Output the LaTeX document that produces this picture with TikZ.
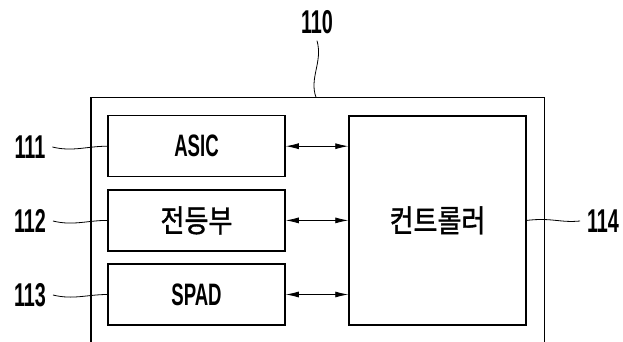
\documentclass[tikz,border=0pt]{standalone}
\usepackage{fontspec}
\setmainfont[FakeStretch=0.6]{Liberation Sans}
\newfontfamily\krfont[FakeStretch=0.84, FakeBold=1.2]{Noto Sans CJK KR}
\usetikzlibrary{arrows.meta}
\begin{document}
\begin{tikzpicture}[x=1pt,y=-1pt,
  blk/.style={draw, line width=1.5pt, minimum width=177pt, minimum height=61pt, inner sep=0pt, font=\fontsize{31}{32}\selectfont\bfseries},
  lab/.style={inner sep=0pt, outer sep=7pt, font=\fontsize{33}{33}\selectfont\bfseries},
  lead/.style={line width=0.8pt},
  biarrow/.style={line width=0.8pt, {Latex[length=13pt,width=6pt]}-{Latex[length=13pt,width=6pt]}}]
\useasboundingbox (0,0) rectangle (623,342);
% outer housing 110 (open at the bottom)
\draw[line width=1.5pt] (91,342) -- (91,97.3) -- (544.6,97.3) -- (544.6,342);
\coordinate (c110) at (316,97.3);
% blocks
\node[blk] (asic) at (196.5,146.2) {ASIC};
\node[blk] (lamp) at (196.5,220.4) {\krfont\mdseries 전등부};
\node[blk] (spad) at (196.5,294.5) {SPAD};
\node[blk, minimum height=209pt] (ctrl) at (437.5,220.4) {\krfont\mdseries 컨트롤러};
% arrows
\draw[biarrow] (asic.east) -- (asic.east -| ctrl.west);
\draw[biarrow] (lamp.east) -- (lamp.east -| ctrl.west);
\draw[biarrow] (spad.east) -- (spad.east -| ctrl.west);
% reference labels
\node[lab] (l110) at (317,22) {110};
\node[lab] (l111) at (30,147) {111};
\node[lab] (l112) at (30,221) {112};
\node[lab] (l113) at (30,295) {113};
\node[lab] (l114) at (603,221) {114};
% leaders
\draw[lead] (l110.south) .. controls (323,62) and (309,78) .. (c110);
\draw[lead] (l111.east) .. controls +(20,5) and +(-20,0) .. (asic.west);
\draw[lead] (l112.east) .. controls +(20,5) and +(-20,0) .. (lamp.west);
\draw[lead] (l113.east) .. controls +(20,5) and +(-20,0) .. (spad.west);
\draw[lead] (ctrl.east) .. controls +(25,-3) and +(-20,2) .. (l114.west);
\end{tikzpicture}
\end{document}
